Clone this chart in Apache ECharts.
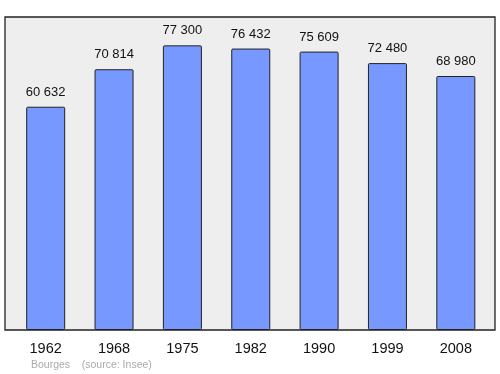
<!DOCTYPE html>
<html><head><meta charset="utf-8">
<script src="https://cdn.jsdelivr.net/npm/echarts@6/dist/echarts.min.js"></script>
<style>html,body{margin:0;padding:0;background:#fff}#c{width:500px;height:374px}</style>
</head><body><div id="c"></div>
<script>
var years = ['1962','1968','1975','1982','1990','1999','2008'];
var population = [60632, 70814, 77300, 76432, 75609, 72480, 68980];
var footer = 'Bourges    (source: Insee)';

function fmt(v){ return String(v).replace(/\B(?=(\d{3})+(?!\d))/g, ' '); }

var chart = echarts.init(document.getElementById('c'), null, {renderer:'canvas'});
chart.setOption({
  animation: false,
  backgroundColor: '#ffffff',
  textStyle: {fontFamily: 'Liberation Sans, Arial, sans-serif'},
  title: {
    text: footer, left: 31, top: 359.5, padding: 0,
    textStyle: {fontSize: 10.5, color: '#aaaaaa', fontWeight: 'normal', fontFamily: 'Liberation Sans, Arial, sans-serif'}
  },
  grid: [
    {left: 11.5, right: 10, top: 17, bottom: 44, containLabel: false},
    {left: 5, right: 5, top: 17, bottom: 44, show: true, backgroundColor: '#eeeeee', borderColor: '#222222', borderWidth: 1.3, z: 0}
  ],
  xAxis: [
    {type: 'category', data: years, gridIndex: 0, boundaryGap: true,
     axisLine: {show: false}, axisTick: {show: false},
     axisLabel: {fontSize: 14.5, color: '#111', margin: 11, fontFamily: 'Liberation Sans, Arial, sans-serif'}},
    {type: 'category', gridIndex: 1, show: false, data: years}
  ],
  yAxis: [
    {type: 'value', gridIndex: 0, min: 0, max: 85000, show: false, splitLine: {show: false}},
    {type: 'value', gridIndex: 1, show: false, splitLine: {show: false}}
  ],
  series: [{
    type: 'bar', data: population, xAxisIndex: 0, yAxisIndex: 0, barWidth: 39, z: 5,
    itemStyle: {color: '#7799ff', borderColor: '#222222', borderWidth: 1, borderRadius: 1},
    label: {show: true, position: 'top', distance: 8, fontSize: 13, color: '#111',
            fontFamily: 'Liberation Sans, Arial, sans-serif',
            formatter: function(p){ return fmt(p.value); }}
  }]
});
</script></body></html>
